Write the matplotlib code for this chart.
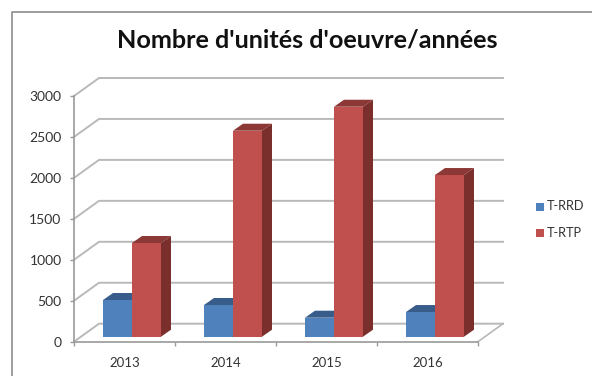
import matplotlib
matplotlib.use("Agg")
import matplotlib.pyplot as plt
from matplotlib.patches import Polygon, Rectangle

YEARS = ["2013", "2014", "2015", "2016"]
T_RRD = [448, 387, 232, 301]
T_RTP = [1144, 2515, 2808, 1974]
Y_TICKS = [0, 500, 1000, 1500, 2000, 2500, 3000]
SERIES_NAMES = ["T-RRD", "T-RTP"]

W, H = 592, 376
X0, X1 = 74, 478
Y0, Y1 = 341.7, 96

GRID = "#b9b9b9"
AXIS = "#9a9a9a"
TEXT = "#333333"

plt.rcParams["font.family"] = ["Lato", "DejaVu Sans"]

fig = plt.figure(figsize=(W / 100, H / 100), dpi=100)
ax = fig.add_axes([X0 / W, 1 - Y0 / H, (X1 - X0) / W, (Y0 - Y1) / H])
ax.set_xlim(0, 4)
ax.set_ylim(0, 3000)
ax.patch.set_alpha(0)

# pixel sizes converted to data units
px_x = 4 / (X1 - X0)
px_y = 3000 / (Y0 - Y1)
depth_x = 25 * px_x
depth_y = 18 * px_y
bar_w = 29 * px_x
bar_dx = 10 * px_x
bar_dy = 7 * px_y
base = 5 * px_y
shift = 7.5 * px_x


# outer frame of the chart picture
fig.add_artist(plt.Line2D([12 / W, 12 / W, 1], [0, 1 - 11.5 / H, 1 - 11.5 / H],
                          color="#8c8c8c", lw=1.2))

# walls and gridlines
for t in Y_TICKS:
    ax.plot([0, depth_x, 4 + depth_x], [t, t + depth_y, t + depth_y],
            color=GRID, lw=1.4, clip_on=False, zorder=1)
ax.plot([4, 4 + depth_x], [0, depth_y], color=GRID, lw=1.2, clip_on=False, zorder=1)


def draw_bar(x, value, front, top, side):
    left = x - bar_w + shift if front == "#4f81bd" else x + shift
    ax.bar(left, value, bar_w, bottom=base, align="edge", color=front, zorder=3)
    ytop = base + value
    ax.add_patch(Polygon([(left, ytop), (left + bar_dx, ytop + bar_dy),
                          (left + bar_w + bar_dx, ytop + bar_dy), (left + bar_w, ytop)],
                         color=top, lw=0, zorder=3, clip_on=False))
    ax.add_patch(Polygon([(left + bar_w, base), (left + bar_w + bar_dx, base + bar_dy),
                          (left + bar_w + bar_dx, ytop + bar_dy), (left + bar_w, ytop)],
                         color=side, lw=0, zorder=3, clip_on=False))


for i in range(len(YEARS)):
    draw_bar(i + 0.5, T_RRD[i], "#4f81bd", "#385d8a", "#2f4f77")
    draw_bar(i + 0.5, T_RTP[i], "#c0504d", "#8c3836", "#7a2f2d")

for side in ["top", "right"]:
    ax.spines[side].set_visible(False)
for side in ["left", "bottom"]:
    ax.spines[side].set_color(AXIS)
    ax.spines[side].set_linewidth(1.2)

ax.set_yticks(Y_TICKS)
ax.set_yticklabels([str(t) for t in Y_TICKS], fontsize=10, color=TEXT)
ax.tick_params(axis="y", length=3, width=1, color=AXIS, pad=6)

ax.set_xticks([i + 0.5 for i in range(len(YEARS))])
ax.set_xticklabels(YEARS, fontsize=9.5, color=TEXT)
ax.set_xticks(range(len(YEARS) + 1), minor=True)
ax.tick_params(axis="x", which="major", length=0, pad=11)
ax.tick_params(axis="x", which="minor", length=3, width=1, color=AXIS)

fig.text(307 / W, 1 - 40 / H, "Nombre d'unités d'oeuvre/années", fontsize=18.2,
         fontweight="bold", color="#111111", ha="center", va="center")

# legend
for name, color, y in zip(SERIES_NAMES, ["#4f81bd", "#c0504d"], [206.5, 233]):
    fig.add_artist(Rectangle((536 / W, 1 - (y + 4) / H), 8 / W, 8 / H, color=color,
                             transform=fig.transFigure, lw=0))
    fig.text(547 / W, 1 - y / H, name, fontsize=9.2, color=TEXT, ha="left", va="center")

fig.savefig("out.png", dpi=100)
